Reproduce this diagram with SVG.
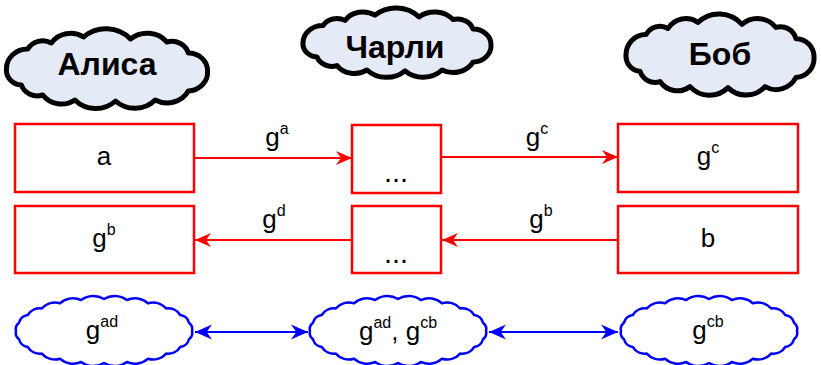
<svg xmlns="http://www.w3.org/2000/svg" xmlns:xlink="http://www.w3.org/1999/xlink" width="821" height="365" viewBox="0 0 821 365">
<style>
.tc{fill:#E4EAF6;stroke:#000;stroke-width:5;stroke-linejoin:round}
.bc{fill:#fff;stroke:#0000FF;stroke-width:2.5;stroke-linejoin:round}
.box{fill:#fff;stroke:#FF0000;stroke-width:2.5}
.rl{stroke:#FF0000;stroke-width:2.2;fill:none}
.bl{stroke:#0000FF;stroke-width:2.2;fill:none}
.name{font-family:"Liberation Sans",Arial,sans-serif;font-weight:bold;font-size:32px;fill:#000;text-anchor:middle}
.t{font-family:"Liberation Sans",Arial,sans-serif;font-size:26px;fill:#000;text-anchor:middle}
.dots{font-size:29px}
.sup{font-size:16px}
</style>
<defs>
<path id="tcloud" vector-effect="non-scaling-stroke" d="M-94,0 A19.8,19.8 0 0 1 -74,-20 A16,16 0 0 1 -52,-26 A21.4,21.4 0 0 1 -22,-32 A30.8,30.8 0 0 1 22,-30 A23.9,23.9 0 0 1 56,-27 A16,16 0 0 1 76,-16 A17.8,17.8 0 0 1 94,2 A18.8,18.8 0 0 1 76,22 A22.6,22.6 0 0 1 45,31 A25.9,25.9 0 0 1 8,32 A26.6,26.6 0 0 1 -30,31 A21.3,21.3 0 0 1 -60,26 A15.7,15.7 0 0 1 -80,16 A14.9,14.9 0 0 1 -94,0 Z"/>
<path id="bcloud" d="M88,0 A7.9,7.9 0 0 1 85,8.3 A10.5,10.5 0 0 1 76.2,16 A14,14 0 0 1 62.2,22.6 A17,17 0 0 1 44,27.7 A19.3,19.3 0 0 1 22.8,30.9 A20.5,20.5 0 0 1 0,32 A20.5,20.5 0 0 1 -22.8,30.9 A19.3,19.3 0 0 1 -44,27.7 A17,17 0 0 1 -62.2,22.6 A14,14 0 0 1 -76.2,16 A10.5,10.5 0 0 1 -85,8.3 A7.9,7.9 0 0 1 -88,0 A7.9,7.9 0 0 1 -85,-8.3 A10.5,10.5 0 0 1 -76.2,-16 A14,14 0 0 1 -62.2,-22.6 A17,17 0 0 1 -44,-27.7 A19.3,19.3 0 0 1 -22.8,-30.9 A20.5,20.5 0 0 1 0,-32 A20.5,20.5 0 0 1 22.8,-30.9 A19.3,19.3 0 0 1 44,-27.7 A17,17 0 0 1 62.2,-22.6 A14,14 0 0 1 76.2,-16 A10.5,10.5 0 0 1 85,-8.3 A7.9,7.9 0 0 1 88,0 Z"/>
<marker id="ar" viewBox="0 0 16 16" refX="16" refY="8" markerWidth="16" markerHeight="16" orient="auto-start-reverse" markerUnits="userSpaceOnUse"><path d="M0,1 L16,8 L0,15 L5,8 Z" fill="#FF0000"/></marker>
<marker id="ab" viewBox="0 0 16 16" refX="16" refY="8" markerWidth="17" markerHeight="17" orient="auto-start-reverse" markerUnits="userSpaceOnUse"><path d="M0,1 L16,8 L0,15 L5,8 Z" fill="#0000FF"/></marker>
</defs>

<g id="alice">
<use xlink:href="#tcloud" class="tc" transform="translate(107,69) scale(1.07,1)"/>
<text class="name" x="107" y="75">Алиса</text>
</g>
<g id="charlie">
<use xlink:href="#tcloud" class="tc" transform="translate(397,43) scale(1.0,0.87)"/>
<text class="name" x="395" y="58">Чарли</text>
</g>
<g id="bob">
<use xlink:href="#tcloud" class="tc" transform="translate(720,55) scale(1.0,1.02)"/>
<text class="name" x="720" y="65">Боб</text>
</g>

<g id="box-a"><rect class="box" x="15" y="124" width="179" height="68"/><text class="t" x="104" y="165">a</text></g>
<g id="box-c1"><rect class="box" x="352" y="125" width="89" height="68"/><text class="t dots" x="396" y="182">...</text></g>
<g id="box-gc"><rect class="box" x="618" y="124" width="180" height="68"/><text class="t" x="708" y="165">g<tspan class="sup" dy="-12">c</tspan></text></g>
<g id="box-gb"><rect class="box" x="15" y="206" width="179" height="67"/><text class="t" x="104" y="247">g<tspan class="sup" dy="-12">b</tspan></text></g>
<g id="box-c2"><rect class="box" x="352" y="206" width="89" height="67"/><text class="t dots" x="396" y="263">...</text></g>
<g id="box-b"><rect class="box" x="618" y="206" width="180" height="67"/><text class="t" x="708" y="247">b</text></g>

<g id="key-alice"><use xlink:href="#bcloud" class="bc" transform="translate(104,331)"/><text class="t" x="102" y="339">g<tspan class="sup" dy="-12">ad</tspan></text></g>
<g id="key-charlie"><use xlink:href="#bcloud" class="bc" transform="translate(398,331)"/><text class="t" x="398" y="340">g<tspan class="sup" dy="-12">ad</tspan><tspan dy="12">, g</tspan><tspan class="sup" dy="-12">cb</tspan></text></g>
<g id="key-bob"><use xlink:href="#bcloud" class="bc" transform="translate(709,331)"/><text class="t" x="708" y="339">g<tspan class="sup" dy="-12">cb</tspan></text></g>

<g id="connectors">
<line class="rl" x1="194" y1="158" x2="352" y2="158" marker-end="url(#ar)"/>
<line class="rl" x1="441" y1="157" x2="618" y2="157" marker-end="url(#ar)"/>
<line class="rl" x1="352" y1="240" x2="195" y2="240" marker-end="url(#ar)"/>
<line class="rl" x1="618" y1="240" x2="442" y2="240" marker-end="url(#ar)"/>
<line class="bl" x1="195" y1="332" x2="308" y2="332" marker-start="url(#ab)" marker-end="url(#ab)"/>
<line class="bl" x1="489" y1="332" x2="618" y2="332" marker-start="url(#ab)" marker-end="url(#ab)"/>
<text class="t" x="277" y="146">g<tspan class="sup" dy="-12">a</tspan></text>
<text class="t" x="537" y="146">g<tspan class="sup" dy="-12">c</tspan></text>
<text class="t" x="274" y="228">g<tspan class="sup" dy="-12">d</tspan></text>
<text class="t" x="541" y="228">g<tspan class="sup" dy="-12">b</tspan></text>
</g>
</svg>
